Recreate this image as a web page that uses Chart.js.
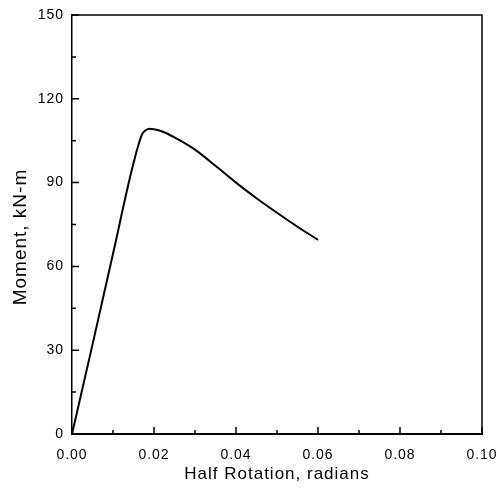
<!DOCTYPE html>
<html>
<head>
<meta charset="utf-8">
<script src="https://cdn.jsdelivr.net/npm/chart.js@4"></script>
<style>
  html, body { margin: 0; padding: 0; background: #fff; }
  #wrap { width: 501px; height: 493px; }
</style>
</head>
<body>
<div id="wrap"><canvas id="chart" width="501" height="493"></canvas></div>
<script>
// data
const rotation = [0, 0.005, 0.010, 0.0145, 0.017, 0.018, 0.019, 0.020, 0.022, 0.025, 0.030, 0.035, 0.040, 0.045, 0.050, 0.055, 0.060];
const moment   = [0, 32, 64.5, 94, 107, 108.8, 109.3, 109.1, 108.3, 106.2, 101.8, 96.0, 90.0, 84.4, 79.2, 74.2, 69.5];

// axis ticks
const xMajorTicks = [0, 0.02, 0.04, 0.06, 0.08, 0.10];
const xMinorTicks = [0.01, 0.03, 0.05, 0.07, 0.09];
const yMajorTicks = [0, 30, 60, 90, 120, 150];
const yMinorTicks = [15, 45, 75, 105, 135];

const xTitle = 'Half Rotation, radians';
const yTitle = 'Moment, kN-m    ';

const ink = '#000';
const fontFamily = 'Liberation Sans, Arial, sans-serif';

// white background, spaced lettering
const bgPlugin = {
    id: 'bg',
    beforeDraw(chart) {
        const c = chart.ctx;
        c.save();
        c.fillStyle = '#fff';
        c.fillRect(0, 0, chart.width, chart.height);
        c.restore();
        c.letterSpacing = '1px';
    }
};

// frame on top/right plus inward tick marks
const frameTicks = {
    id: 'frameTicks',
    afterDraw(chart) {
        const c = chart.ctx;
        const { left, right, top, bottom } = chart.chartArea;
        const xs = chart.scales.x, ys = chart.scales.y;
        c.save();
        c.strokeStyle = ink;
        c.lineWidth = 1.5;
        c.beginPath();
        c.moveTo(left, top);
        c.lineTo(right, top);
        c.lineTo(right, bottom);
        c.stroke();

        c.beginPath();
        xMajorTicks.forEach(v => {
            const p = xs.getPixelForValue(v);
            c.moveTo(p, bottom); c.lineTo(p, bottom - 7);
        });
        xMinorTicks.forEach(v => {
            const p = xs.getPixelForValue(v);
            c.moveTo(p, bottom); c.lineTo(p, bottom - 4);
        });
        yMajorTicks.forEach(v => {
            const p = ys.getPixelForValue(v);
            c.moveTo(left, p); c.lineTo(left + 7, p);
        });
        yMinorTicks.forEach(v => {
            const p = ys.getPixelForValue(v);
            c.moveTo(left, p); c.lineTo(left + 4, p);
        });
        c.stroke();
        c.restore();
    }
};

const ctx = document.getElementById('chart').getContext('2d');
new Chart(ctx, {
    type: 'line',
    data: {
        datasets: [{
            data: rotation.map((r, i) => ({ x: r, y: moment[i] })),
            borderColor: ink,
            borderWidth: 2,
            pointRadius: 0,
            fill: false,
            cubicInterpolationMode: 'monotone'
        }]
    },
    options: {
        responsive: false,
        devicePixelRatio: 1,
        animation: false,
        layout: { padding: { top: 15, right: 19, left: 0, bottom: 0 } },
        plugins: {
            legend: { display: false },
            tooltip: { enabled: false }
        },
        scales: {
            x: {
                type: 'linear',
                min: 0,
                max: 0.10,
                afterFit: s => { s.height = 59; s.paddingLeft = 0; s.paddingRight = 0; },
                afterBuildTicks: s => { s.ticks = xMajorTicks.map(v => ({ value: v })); },
                grid: { display: false, drawTicks: false },
                border: { display: true, color: ink, width: 2 },
                ticks: {
                    color: ink,
                    padding: 13,
                    maxRotation: 0,
                    autoSkip: false,
                    font: { family: fontFamily, size: 14 },
                    callback: v => Number(v).toFixed(2)
                },
                title: {
                    display: true,
                    text: xTitle,
                    color: ink,
                    padding: { top: 0, bottom: 8 },
                    font: { family: fontFamily, size: 17 }
                }
            },
            y: {
                type: 'linear',
                min: 0,
                max: 150,
                afterFit: s => { s.width = 72; s.paddingTop = 0; s.paddingBottom = 0; },
                afterBuildTicks: s => { s.ticks = yMajorTicks.map(v => ({ value: v })); },
                grid: { display: false, drawTicks: false },
                border: { display: true, color: ink, width: 1.5 },
                ticks: {
                    color: ink,
                    padding: 8,
                    autoSkip: false,
                    font: { family: fontFamily, size: 14 }
                },
                title: {
                    display: true,
                    text: yTitle,
                    color: ink,
                    padding: { top: 9, bottom: 0 },
                    font: { family: fontFamily, size: 19 }
                }
            }
        }
    },
    plugins: [bgPlugin, frameTicks]
});
</script>
</body>
</html>
